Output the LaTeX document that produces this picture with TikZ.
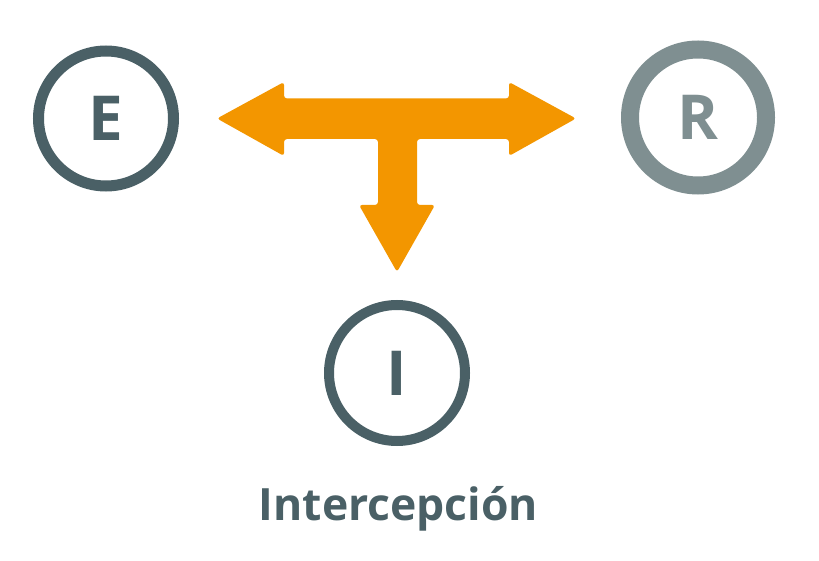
\documentclass[tikz,border=0pt]{standalone}
\usepackage{fontspec}
\setmainfont{Open Sans}
\definecolor{slate}{HTML}{4A6066}
\definecolor{greyring}{HTML}{7F8F91}
\definecolor{orangearrow}{HTML}{F39600}
\begin{document}
\begin{tikzpicture}[x=1pt,y=-1pt,
  ring/.style={circle, draw=#1, text=#1, inner sep=0pt, minimum size=136pt,
    font=\bfseries\fontsize{62}{62}\selectfont},
  caption/.style={text=slate, font=\bfseries\fontsize{44.5}{44.5}\selectfont, inner sep=0pt}]
\useasboundingbox (0,0) rectangle (819,561);
\node[ring=slate, line width=11pt, minimum size=135pt] (E) at (106,118.5) {E};
\node[ring=greyring, line width=18pt] (R) at (698,117.5) {R};
\node[ring=slate, line width=10pt] (I) at (397,373) {I};
\node[caption, anchor=base] (cap) at (398.5,520) {Intercepción};
% T-shaped arrow
\coordinate (lt) at (217,118.5);
\coordinate (rt) at (576,118.5);
\coordinate (dt) at (397,272);
\fill[orangearrow, rounded corners=3pt]
  (lt) -- (284,82) -- (284,98.5) -- (509,98.5) -- (509,82) -- (rt)
  -- (509,156) -- (509,139) -- (417,139) -- (417,205) -- (435,205) -- (dt)
  -- (359,205) -- (378,205) -- (378,139) -- (284,139) -- (284,156) -- cycle;
\end{tikzpicture}
\end{document}
